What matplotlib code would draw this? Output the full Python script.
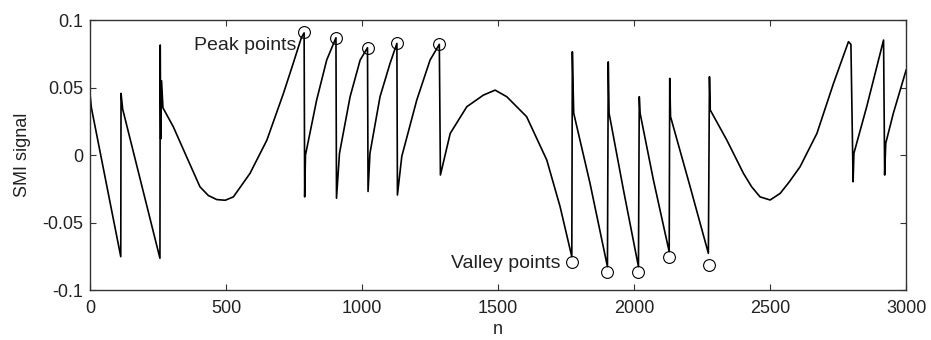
import matplotlib.pyplot as plt
import matplotlib as mpl
mpl.rcParams['font.family'] = ['Liberation Sans', 'DejaVu Sans']

# 信号轨迹的拐点
n = [0, 5, 113, 114, 120, 257, 258, 260, 263, 268,
     306, 355, 404, 435, 466, 497, 527, 588, 650, 711, 747, 777, 787,
     789, 792, 833, 870, 904,
     906, 917, 956, 993, 1020,
     1022, 1029, 1066, 1103, 1128,
     1130, 1146, 1201, 1250, 1284,
     1288, 1324, 1385, 1446, 1489, 1532, 1605, 1679, 1728, 1771,
     1773, 1775, 1778, 1838, 1902,
     1905, 1908, 1961, 2016,
     2019, 2022, 2071, 2129,
     2131, 2134, 2206, 2273,
     2277, 2280, 2341, 2402, 2432, 2463, 2500, 2537, 2570, 2610, 2672, 2733, 2788, 2797,
     2805, 2808, 2855, 2917,
     2921, 2925, 2953, 3000]
smi = [0.045, 0.035, -0.0753, 0.0457, 0.034, -0.0765, 0.0815, 0.012, 0.055, 0.035,
       0.021, -0.0013, -0.0235, -0.0300, -0.033, -0.0335, -0.031, -0.0136, 0.011, 0.0457, 0.068, 0.087, 0.0905,
       -0.031, 0.0, 0.0407, 0.0704, 0.0869,
       -0.032, 0.0013, 0.0432, 0.0704, 0.0795,
       -0.027, 0.0013, 0.0432, 0.068, 0.0827,
       -0.0296, -0.001, 0.0407, 0.0704, 0.082,
       -0.0148, 0.016, 0.0358, 0.0444, 0.0481, 0.0432, 0.0284, -0.0037, -0.0383, -0.0753,
       0.0765, 0.057, 0.031, -0.021, -0.0827,
       0.069, 0.031, -0.026, -0.0827,
       0.0432, 0.031, -0.0185, -0.0716,
       0.0568, 0.0284, -0.0235, -0.0728,
       0.058, 0.0333, 0.011, -0.0136, -0.0235, -0.031, -0.0333, -0.0284, -0.0200, -0.0087, 0.016, 0.0531, 0.084, 0.082,
       -0.0198, 0.0013, 0.0358, 0.0852,
       -0.0148, 0.0087, 0.031, 0.063]

# 峰值点和谷值点
peak_n = [787, 904, 1020, 1128, 1284]
peak_v = [0.0909, 0.0869, 0.0795, 0.0830, 0.0820]
valley_n = [1771, 1902, 2016, 2130, 2277]
valley_v = [-0.0795, -0.0864, -0.0867, -0.0758, -0.0815]

fig = plt.figure(figsize=(9.31, 3.40), dpi=100)
ax = fig.add_axes([0.0967, 0.147, 0.8766, 0.794])

ax.plot(n, smi, color='black', linewidth=1.2)
ax.plot(peak_n, peak_v, 'o', mfc='none', mec='black', ms=8.5, mew=0.8)
ax.plot(valley_n, valley_v, 'o', mfc='none', mec='black', ms=8.5, mew=0.8)

ax.text(757, 0.0815, 'Peak points', ha='right', va='center', fontsize=14, color='#222222')
ax.text(1728, -0.0800, 'Valley points', ha='right', va='center', fontsize=14, color='#222222')

ax.set_xlim(0, 3000)
ax.set_ylim(-0.1, 0.1)
ax.set_xticks([0, 500, 1000, 1500, 2000, 2500, 3000])
ax.set_yticks([-0.1, -0.05, 0, 0.05, 0.1])
ax.set_yticklabels(['-0.1', '-0.05', '0', '0.05', '0.1'])
ax.tick_params(direction='in', top=True, right=True, length=4, labelsize=13,
               color='#333333', labelcolor='#222222')
ax.tick_params(axis='y', pad=5)
ax.tick_params(axis='x', pad=7)
ax.set_xlabel('n', fontsize=13, color='#222222', labelpad=3)
ax.set_ylabel('SMI signal', fontsize=13, color='#222222', labelpad=8)
for s in ax.spines.values():
    s.set_linewidth(1.0)
    s.set_color('#333333')

fig.savefig('out.png', dpi=100)
